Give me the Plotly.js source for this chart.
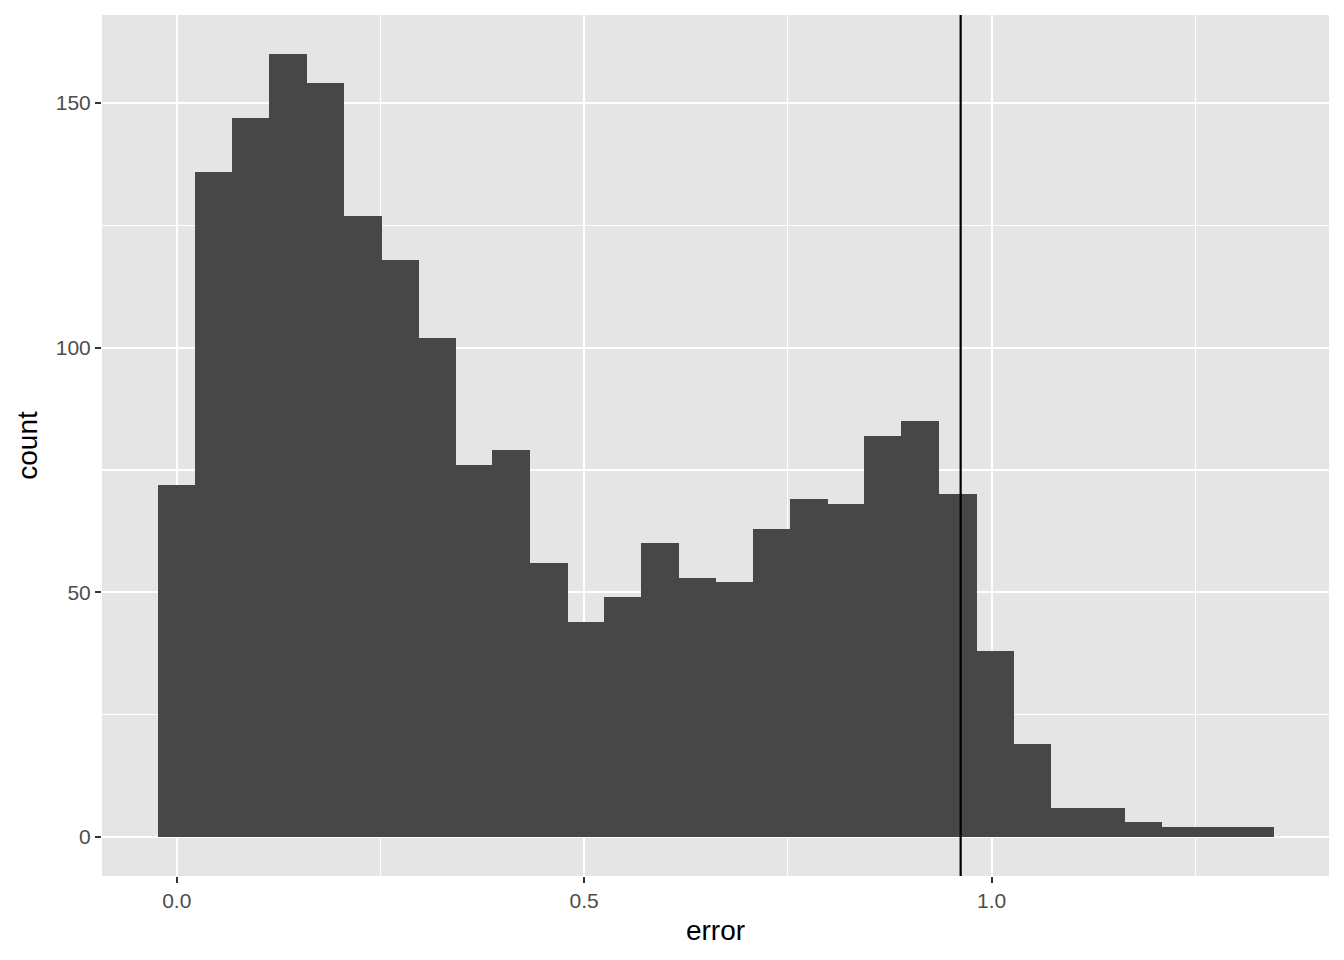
<!DOCTYPE html>
<html>
<head>
<meta charset="utf-8">
<script src="https://cdn.plot.ly/plotly-3.0.1.min.js"></script>
<style>html,body{margin:0;padding:0;background:#fff;}#chart{width:1344px;height:960px;}</style>
</head>
<body>
<div id="chart"></div>
<script>
const binCenters = [0.0000, 0.0456, 0.0913, 0.1369, 0.1825, 0.2282, 0.2738, 0.3194, 0.3650, 0.4107,
                    0.4563, 0.5019, 0.5476, 0.5932, 0.6388, 0.6845, 0.7301, 0.7757, 0.8213, 0.8670,
                    0.9126, 0.9582, 1.0039, 1.0495, 1.0951, 1.1408, 1.1864, 1.2320, 1.2776, 1.3233];
const counts = [72, 136, 147, 160, 154, 127, 118, 102, 76, 79,
                56, 44, 49, 60, 53, 52, 63, 69, 68, 82,
                85, 70, 38, 19, 6, 6, 3, 2, 2, 2];
const binWidth = 0.04563;
const vlineX = 0.962;
const xTickVals = [0, 0.5, 1.0];
const xTickText = ["0.0", "0.5", "1.0"];
const yTickVals = [0, 50, 100, 150];
const yTickText = ["0", "50", "100", "150"];

const fontFam = "Liberation Sans, Arial, Helvetica, sans-serif";

const trace = {
  type: "bar",
  x: binCenters,
  y: counts,
  width: binCenters.map(() => binWidth * 1.02),
  marker: {color: "#474747", line: {width: 0}},
  hoverinfo: "x+y"
};

const layout = {
  width: 1344, height: 960,
  margin: {l: 102, r: 15, t: 15, b: 84, pad: 0},
  paper_bgcolor: "#ffffff",
  plot_bgcolor: "#e5e5e5",
  showlegend: false,
  bargap: 0,
  font: {family: fontFam, color: "#4d4d4d"},
  xaxis: {
    range: [-0.0917, 1.4140],
    tickmode: "array", tickvals: xTickVals, ticktext: xTickText,
    showgrid: true, gridcolor: "#ffffff", gridwidth: 2.2,
    minor: {dtick: 0.25, tick0: 0, showgrid: true, gridcolor: "#ffffff", gridwidth: 1.1, ticks: ""},
    zeroline: false, showline: false,
    ticks: "outside", ticklen: 6, tickwidth: 2, tickcolor: "#333333",
    tickfont: {size: 21, color: "#4d4d4d", family: fontFam},
    title: {text: "error", font: {size: 28, color: "#000000", family: fontFam}, standoff: 9}
  },
  yaxis: {
    range: [-8, 168],
    tickmode: "array", tickvals: yTickVals, ticktext: yTickText,
    showgrid: true, gridcolor: "#ffffff", gridwidth: 2.2,
    minor: {dtick: 25, tick0: 0, showgrid: true, gridcolor: "#ffffff", gridwidth: 1.1, ticks: ""},
    zeroline: false, showline: false,
    ticks: "outside", ticklen: 6, tickwidth: 2, tickcolor: "#333333",
    tickfont: {size: 21, color: "#4d4d4d", family: fontFam},
    title: {text: "count", font: {size: 28, color: "#000000", family: fontFam}, standoff: 9}
  },
  shapes: [{
    type: "line", xref: "x", yref: "paper",
    x0: vlineX, x1: vlineX, y0: 0, y1: 1,
    line: {color: "#000000", width: 2.2}
  }]
};

Plotly.newPlot("chart", [trace], layout, {displayModeBar: false, staticPlot: true});
</script>
</body>
</html>
